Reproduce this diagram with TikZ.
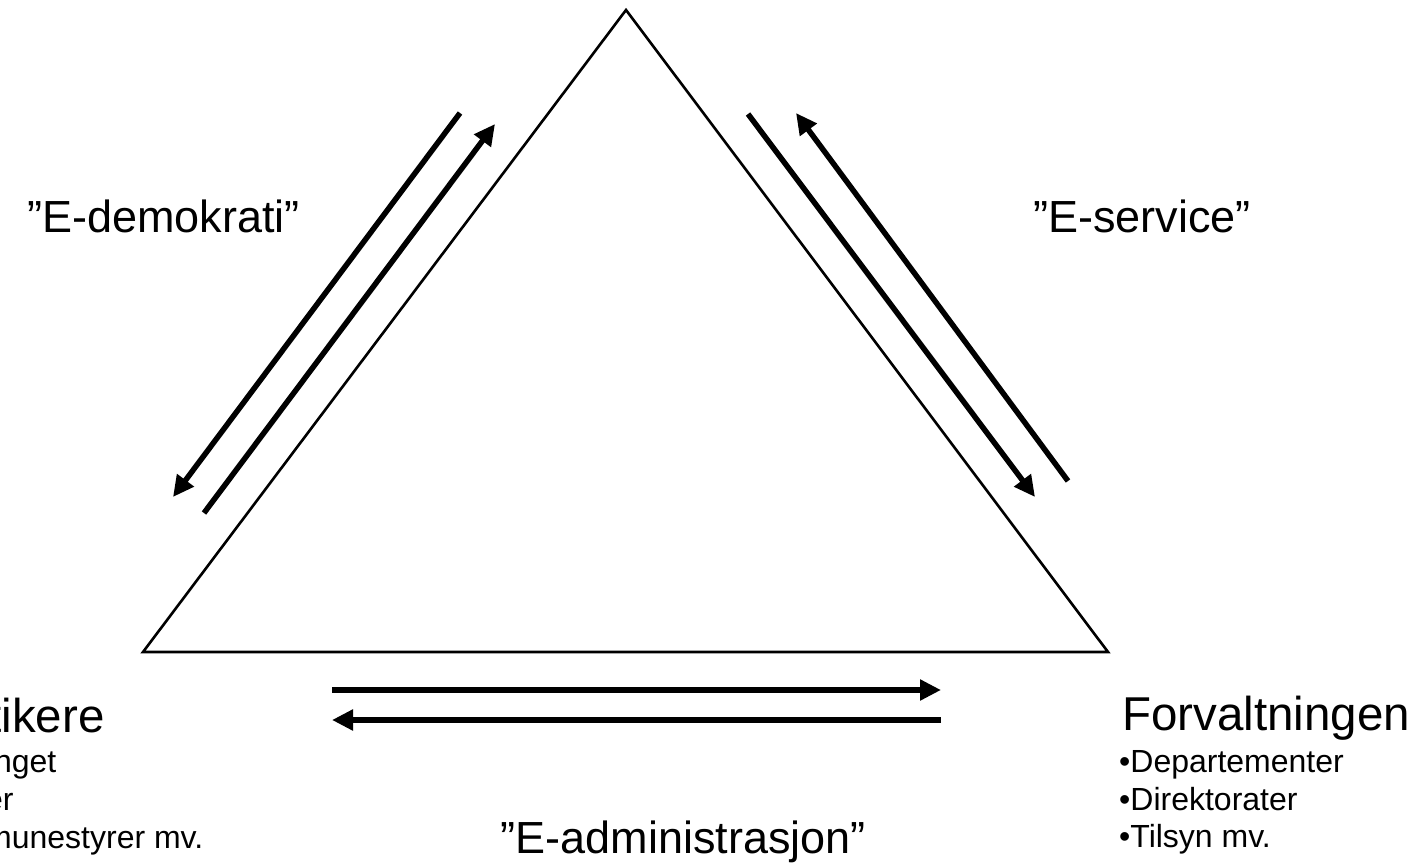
\documentclass[tikz,border=0pt]{standalone}
\usepackage{fontspec}
\setmainfont{Liberation Sans}
\usetikzlibrary{arrows.meta}
\tikzset{
  edge/.style={line width=2.6pt, line join=miter},
  flow/.style={line width=5.5pt, -{Triangle[length=21pt,width=20pt]}},
  big/.style={font=\fontsize{45}{54}\selectfont, inner sep=0pt},
  head/.style={font=\fontsize{47.5}{56}\selectfont, inner sep=0pt, anchor=base west},
  item/.style={font=\fontsize{32}{38}\selectfont, inner sep=0pt, anchor=base west}
}
\begin{document}
\begin{tikzpicture}[x=1pt,y=-1pt]
\useasboundingbox (0,0) rectangle (1413,867);
\clip (0,0) rectangle (1413,867);
% triangle
\coordinate (top) at (626,10);
\coordinate (bl) at (143,652);
\coordinate (br) at (1108,652);
\draw[edge] (top) -- (bl) -- (br) -- cycle;
% arrows
\coordinate (a1) at (460,113); \coordinate (a2) at (173,497);
\coordinate (b1) at (204,513); \coordinate (b2) at (495,124);
\coordinate (c1) at (748,114); \coordinate (c2) at (1035,497);
\coordinate (d1) at (1068,481); \coordinate (d2) at (796,113);
\coordinate (e1) at (332,690); \coordinate (e2) at (941,690);
\coordinate (f1) at (941,720); \coordinate (f2) at (332,720);
\draw[flow] (a1) -- (a2);
\draw[flow] (b1) -- (b2);
\draw[flow] (c1) -- (c2);
\draw[flow] (d1) -- (d2);
\draw[flow] (e1) -- (e2);
\draw[flow] (f1) -- (f2);
% labels
\node[big, anchor=base east] (ld) at (300,232) {”E-demokrati”};
\node[big, anchor=base west] (ls) at (1033,232) {”E-service”};
\node[big, anchor=base east] (la) at (866,853) {”E-administrasjon”};
% left block
\node[head] (pol) at (-91,732) {Politikere};
\node[item] (p1) at (-92,772) {•Stortinget};
\node[item] (p2) at (-92,810) {•Partier};
\node[item] (p3) at (-92,848) {•Kommunestyrer mv.};
% right block
\node[head] (forv) at (1122,730) {Forvaltningen};
\node[item] (f1t) at (1119,772) {•Departementer};
\node[item] (f2t) at (1119,810) {•Direktorater};
\node[item] (f3t) at (1119,847) {•Tilsyn mv.};
\end{tikzpicture}
\end{document}
